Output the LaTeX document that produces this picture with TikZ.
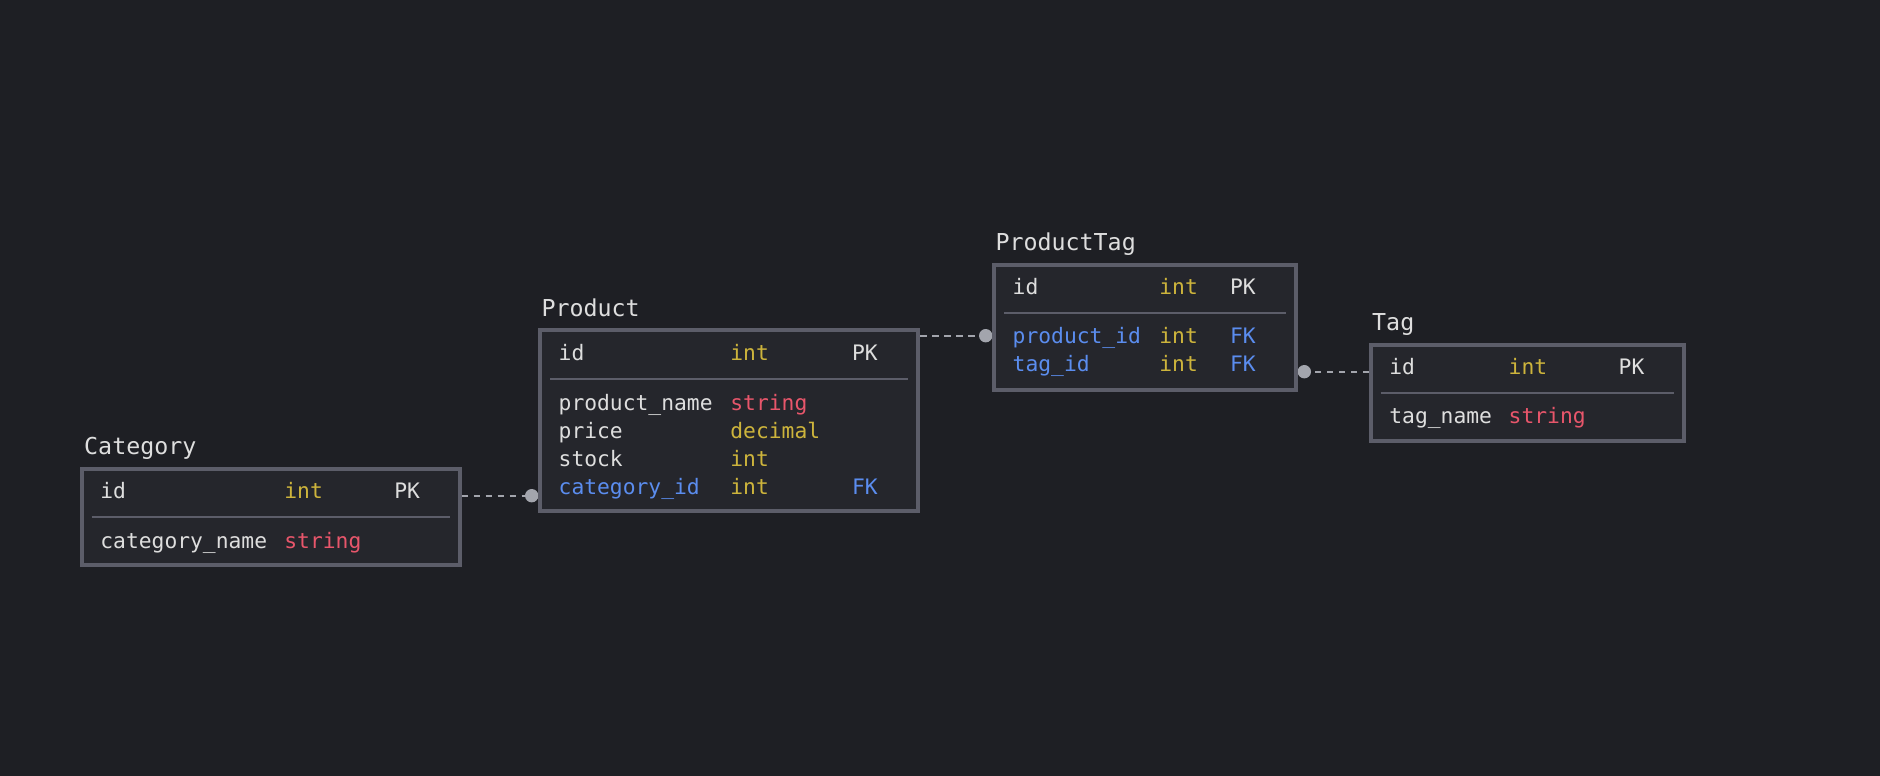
\documentclass[tikz,border=0pt]{standalone}
\usepackage{fontspec}
\setmonofont{DejaVu Sans Mono}
\usetikzlibrary{positioning}

% colours
\definecolor{bgcol}{HTML}{1E1F24}
\definecolor{boxfill}{HTML}{25262C}
\definecolor{boxline}{HTML}{5C5D69}
\definecolor{txtcol}{HTML}{DEDEDE}
\definecolor{typecol}{HTML}{CDB43C}
\definecolor{strcol}{HTML}{E8566B}
\definecolor{keycol}{HTML}{5B8DEF}
\definecolor{linkcol}{HTML}{A3A5AD}

\tikzset{
  table/.style={draw=boxline, line width=4pt, fill=boxfill, inner sep=0pt, anchor=north west},
  title/.style={text=txtcol, font=\ttfamily\fontsize{23.3}{28}\selectfont, inner sep=0pt, anchor=base west},
  field/.style={font=\ttfamily\fontsize{21.3}{26}\selectfont, inner sep=0pt, anchor=base west},
  sep/.style={draw=boxline, line width=2pt},
  link/.style={draw=linkcol, line width=2pt, dash pattern=on 6.5pt off 5.5pt},
  dot/.style={circle, fill=linkcol, inner sep=0pt, minimum size=13.4pt}
}

\begin{document}
\begin{tikzpicture}[x=1pt, y=-1pt]

  % canvas
  \fill[bgcol] (0,0) rectangle (1880,776);
  \useasboundingbox (0,0) rectangle (1880,776);

  % dots at the ends of the links
  \node[dot] (dot-product) at (531.7,495.7) {};
  \node[dot] (dot-producttag) at (985.7,335.7) {};
  \node[dot] (dot-tag) at (1304.3,371.7) {};

  % Category
  \node[table, minimum width=377.7pt, minimum height=96pt] (category) at (80,466.7) {};
  \node[title] (category-title) at ([xshift=4pt,yshift=12pt]category.north west) {Category};
  \draw[sep] ([xshift=11.7pt,yshift=-50pt]category.north west) -- ([xshift=-11.7pt,yshift=-50pt]category.north east);
  \foreach \fname/\ftype/\fkey/\ncol/\tcol/\dy [count=\i] in {
      id/int/PK/txtcol/typecol/31.3,
      category\_name/string//txtcol/strcol/81.3} {
    \node[field, text=\ncol] (category-\i) at ([xshift=20.2pt,yshift=-\dy pt]category.north west) {\fname};
    \node[field, text=\tcol] (category-\i-type) at ([xshift=204.2pt,yshift=-\dy pt]category.north west) {\ftype};
    \node[field, text=\ncol] (category-\i-key) at ([xshift=314.2pt,yshift=-\dy pt]category.north west) {\fkey};
  }

  % Product
  \node[table, minimum width=377.7pt, minimum height=180.4pt] (product) at (538.3,328.3) {};
  \node[title] (product-title) at ([xshift=3pt,yshift=12.3pt]product.north west) {Product};
  \draw[sep] ([xshift=11.7pt,yshift=-51pt]product.north west) -- ([xshift=-11.7pt,yshift=-51pt]product.north east);
  \foreach \fname/\ftype/\fkey/\ncol/\tcol/\dy [count=\i] in {
      id/int/PK/txtcol/typecol/31.7,
      product\_name/string//txtcol/strcol/81.7,
      price/decimal//txtcol/typecol/109.7,
      stock/int//txtcol/typecol/137.7,
      category\_id/int/FK/keycol/typecol/165.7} {
    \node[field, text=\ncol] (product-\i) at ([xshift=20.2pt,yshift=-\dy pt]product.north west) {\fname};
    \node[field, text=\tcol] (product-\i-type) at ([xshift=191.9pt,yshift=-\dy pt]product.north west) {\ftype};
    \node[field, text=\ncol] (product-\i-key) at ([xshift=313.6pt,yshift=-\dy pt]product.north west) {\fkey};
  }

  % ProductTag
  \node[table, minimum width=301.2pt, minimum height=125pt] (producttag) at (992.3,262.7) {};
  \node[title] (producttag-title) at ([xshift=3pt,yshift=12pt]producttag.north west) {ProductTag};
  \draw[sep] ([xshift=11.7pt,yshift=-50pt]producttag.north west) -- ([xshift=-11.7pt,yshift=-50pt]producttag.north east);
  \foreach \fname/\ftype/\fkey/\ncol/\tcol/\dy [count=\i] in {
      id/int/PK/txtcol/typecol/31.3,
      product\_id/int/FK/keycol/typecol/80.6,
      tag\_id/int/FK/keycol/typecol/109} {
    \node[field, text=\ncol] (producttag-\i) at ([xshift=20.2pt,yshift=-\dy pt]producttag.north west) {\fname};
    \node[field, text=\tcol] (producttag-\i-type) at ([xshift=166.9pt,yshift=-\dy pt]producttag.north west) {\ftype};
    \node[field, text=\ncol] (producttag-\i-key) at ([xshift=237.6pt,yshift=-\dy pt]producttag.north west) {\fkey};
  }

  % Tag
  \node[table, minimum width=312.7pt, minimum height=96.6pt] (tag) at (1369,342.7) {};
  \node[title] (tag-title) at ([xshift=3pt,yshift=12pt]tag.north west) {Tag};
  \draw[sep] ([xshift=11.7pt,yshift=-50pt]tag.north west) -- ([xshift=-11.7pt,yshift=-50pt]tag.north east);
  \foreach \fname/\ftype/\fkey/\ncol/\tcol/\dy [count=\i] in {
      id/int/PK/txtcol/typecol/31.3,
      tag\_name/string//txtcol/strcol/80.6} {
    \node[field, text=\ncol] (tag-\i) at ([xshift=20.2pt,yshift=-\dy pt]tag.north west) {\fname};
    \node[field, text=\tcol] (tag-\i-type) at ([xshift=139.5pt,yshift=-\dy pt]tag.north west) {\ftype};
    \node[field, text=\ncol] (tag-\i-key) at ([xshift=249.5pt,yshift=-\dy pt]tag.north west) {\fkey};
  }

  % links between the tables
  \draw[link] (category.east |- dot-product) -- (dot-product);
  \draw[link] (product.east |- dot-producttag) -- (dot-producttag);
  \draw[link] (tag.west |- dot-tag) -- (dot-tag);

\end{tikzpicture}
\end{document}
